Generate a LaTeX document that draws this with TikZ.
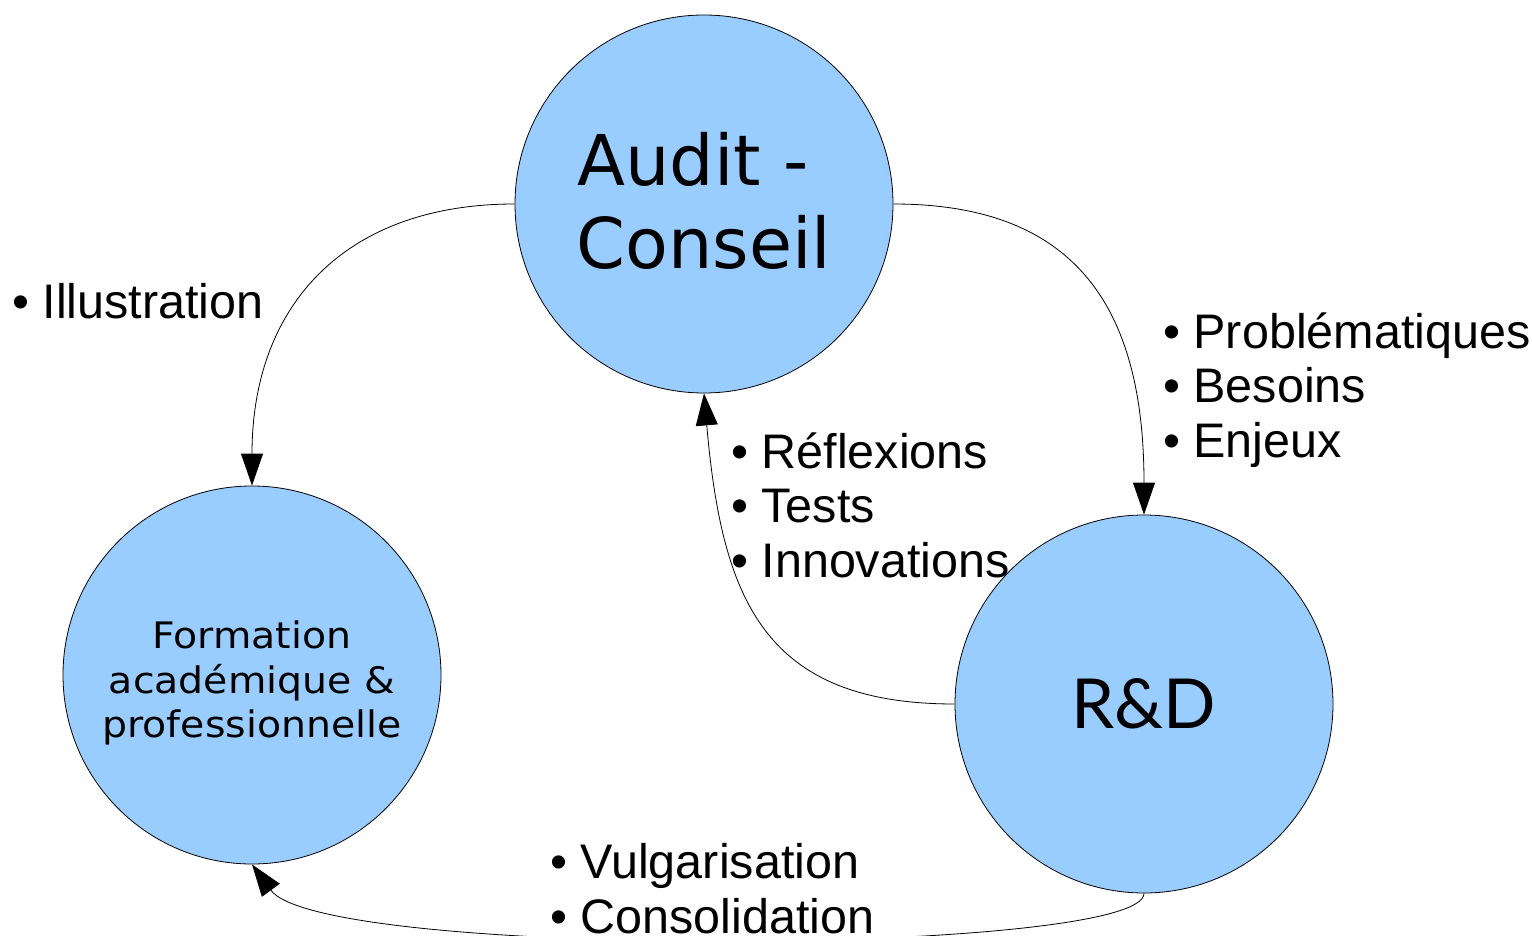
\documentclass[tikz,border=0pt]{standalone}
\usepackage{fontspec}
\setmainfont{Liberation Sans}
\newfontfamily\dejavu{DejaVu Sans}
\newfontfamily\formfont[FakeStretch=1.08]{DejaVu Sans}
\newfontfamily\lato{Lato}
\usetikzlibrary{arrows.meta}
\definecolor{hubblue}{HTML}{99CCFF}
\begin{document}
\begin{tikzpicture}[x=1pt,y=-1pt,
    hub/.style={circle,draw=black,line width=0.8pt,fill=hubblue,minimum size=378pt,inner sep=0pt,align=center},
    note/.style={anchor=base west,inner sep=0pt,align=left,font=\fontsize{48.5}{54.5}\selectfont},
    link/.style={line width=0.8pt,-{Triangle[length=32pt,width=22pt]}}]
        \useasboundingbox (0,0) rectangle (1532,936);
        %% the three poles
        \node[hub,font=\dejavu\fontsize{70}{83}\selectfont] (audit) at (704,204)
            {Audit -\hspace*{0.318em}\\Conseil\rule[-8pt]{0pt}{8pt}};
        \node[hub,font=\formfont\fontsize{36.5}{44.5}\selectfont] (form) at (252,675)
            {\rule{0pt}{44pt}Formation\\acad\'emique \&\\professionnelle};
        \node[hub,font=\lato\fontsize{69}{80}\selectfont] (rd) at (1144,704) {R\&D};
        %% flows between them
        \draw[link] (audit.west) .. controls +(-170,0) and +(0,-180) .. (form.north);
        \draw[link] (audit.east) .. controls +(180,0) and +(0,-210) .. (rd.north);
        \draw[link] (rd.west) .. controls +(-190,0) and +(18,207) .. (audit.south);
        \draw[link] (rd.south) .. controls +(0,62) and +(70,96) .. (form.south);
        %% what each flow carries
        \node[note] (illus) at (12,318) {• Illustration};
        \node[note] (needs) at (1163,457) {• Problématiques\\• Besoins\\• Enjeux};
        \node[note] (ideas) at (731,577) {• Réflexions\\• Tests\\• Innovations};
        \node[note] (vulg) at (550,933) {• Vulgarisation\\• Consolidation};
\end{tikzpicture}
\end{document}
